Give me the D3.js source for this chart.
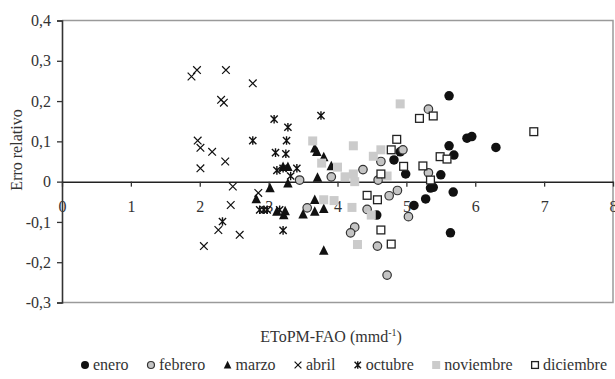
<!DOCTYPE html>
<html>
<head>
<meta charset="utf-8">
<script src="https://cdn.jsdelivr.net/npm/d3@7"></script>
<style>
  body { margin: 0; background: #fff; }
  svg text { font-family: "Liberation Serif", "DejaVu Serif", serif !important; }
</style>
</head>
<body>
<div id="chart"></div>
<script>
// ---------- data (x = EToPM-FAO, y = erro relativo) ----------
const months = ['enero', 'febrero', 'marzo', 'abril', 'octubre', 'noviembre', 'diciembre'];
const xTicks = [0, 1, 2, 3, 4, 5, 6, 7, 8];
const yTicks = [-0.3, -0.2, -0.1, 0, 0.1, 0.2, 0.3, 0.4];

const enero = [[5.62,0.213],[5.88,0.108],[5.95,0.112],[5.62,0.089],[5.69,0.066],[6.30,0.085],[4.82,0.054],[4.91,0.074],
  [4.99,0.019],[5.50,0.017],[5.35,-0.016],[5.39,-0.014],[5.68,-0.026],[5.28,-0.043],[5.11,-0.059],[5.64,-0.127],[4.57,-0.083]];
const febrero = [[3.45,0.004],[3.91,0.012],[4.37,0.030],[4.63,0.050],[4.59,0.004],[4.95,0.079],[5.32,0.180],[5.32,0.022],
  [4.75,-0.035],[4.87,-0.022],[4.43,-0.069],[3.56,-0.065],[5.03,-0.087],[4.25,-0.113],[4.19,-0.127],[4.58,-0.160],[4.72,-0.232]];
const marzo = [[3.67,0.083],[3.70,0.074],[3.80,0.061],[3.91,0.039],[3.21,0.037],[3.28,0.037],[3.71,0.010],[3.02,-0.016],
  [3.28,-0.004],[2.82,-0.043],[3.67,-0.045],[3.80,-0.067],[3.50,-0.081],[3.67,-0.074],[3.12,-0.074],[3.22,-0.083],[3.24,-0.073],[3.80,-0.171]];
const abril = [[1.88,0.261],[1.96,0.277],[2.38,0.277],[2.77,0.244],[2.31,0.203],[2.35,0.196],[1.97,0.102],[2.01,0.084],
  [2.18,0.074],[2.37,0.050],[2.01,0.033],[2.48,-0.012],[2.85,-0.028],[2.45,-0.058],[2.27,-0.120],[2.58,-0.132],[2.06,-0.160]];
const octubre = [[3.08,0.155],[3.28,0.135],[3.76,0.164],[2.77,0.102],[3.26,0.102],[3.10,0.072],[3.25,0.069],[3.12,0.028],
  [3.21,0.033],[3.41,0.033],[3.32,0.014],[2.87,-0.070],[2.93,-0.070],[2.98,-0.070],[3.16,-0.070],[3.21,-0.121],[2.33,-0.099]];
const noviembre = [[4.91,0.193],[3.64,0.101],[4.23,0.089],[4.63,0.079],[4.52,0.063],[3.77,0.046],[4.00,0.036],[4.11,0.012],
  [4.23,0.019],[4.25,0.000],[4.72,0.014],[3.80,-0.045],[3.95,-0.047],[4.21,-0.064],[4.49,-0.083],[4.29,-0.156]];
const diciembre = [[4.86,0.105],[4.78,0.079],[4.63,0.019],[4.96,0.038],[5.19,0.157],[5.39,0.163],[5.49,0.062],[5.59,0.056],
  [5.24,0.039],[5.35,0.004],[6.85,0.124],[4.43,-0.034],[4.58,-0.045],[4.63,-0.120],[4.78,-0.155]];

const seriesData = [enero, febrero, marzo, abril, octubre, noviembre, diciembre];

// ---------- setup ----------
const W = 615, H = 379;
const plot = { left: 62, right: 613, top: 20.5, bottom: 302.5 };

const svg = d3.select('#chart').append('svg')
  .attr('width', W).attr('height', H);

const x = d3.scaleLinear().domain([0, 8]).range([plot.left, plot.right]);
const y = d3.scaleLinear().domain([-0.3, 0.4]).range([plot.bottom, plot.top]);

const loc = d3.formatLocale({ decimal: ',', thousands: '.', grouping: [3], currency: ['', ''], minus: '-' });
const fmt = d => (d === 0 ? '0' : loc.format('.1f')(d));

// plot frame (grey top / right / bottom)
svg.append('path')
  .attr('d', `M${plot.left},${plot.top}H${plot.right}V${plot.bottom}H${plot.left}`)
  .attr('fill', 'none').attr('stroke', '#9a9a9a').attr('stroke-width', 1.5);

// y axis
const yAxis = svg.append('g')
  .attr('transform', `translate(${plot.left},0)`)
  .call(d3.axisLeft(y).tickValues(yTicks).tickFormat(fmt).tickSize(5).tickPadding(6));
yAxis.select('.domain').attr('stroke', '#333').attr('stroke-width', 1.6);
yAxis.selectAll('.tick line').attr('stroke', '#333').attr('stroke-width', 1.3);
yAxis.selectAll('text').attr('font-size', 16).attr('fill', '#333');

// x axis through zero
const xAxis = svg.append('g')
  .attr('transform', `translate(0,${y(0)})`)
  .call(d3.axisBottom(x).tickValues(xTicks).tickFormat(d3.format('d')).tickSizeInner(5).tickSizeOuter(0).tickPadding(14));
xAxis.select('.domain').attr('stroke', '#222').attr('stroke-width', 1.5);
xAxis.selectAll('.tick line').attr('stroke', '#333').attr('stroke-width', 1.3);
xAxis.selectAll('text').attr('font-size', 16).attr('fill', '#333');

// axis titles
svg.append('text')
  .attr('transform', `translate(22,150) rotate(-90)`)
  .attr('text-anchor', 'middle')
  .attr('font-size', 16).attr('fill', '#333')
  .text('Erro relativo');

const xt = svg.append('text')
  .attr('x', 331).attr('y', 342)
  .attr('text-anchor', 'middle')
  .attr('font-size', 16).attr('fill', '#333');
xt.append('tspan').text('EToPM-FAO (mmd');
xt.append('tspan').attr('dy', -6).attr('font-size', 10).text('-1');
xt.append('tspan').attr('dy', 6).text(')');

// ---------- marker drawing ----------
function drawMarker(g, i, s) {
  const h = s / 2;
  switch (i) {
    case 0:
      g.append('circle').attr('r', h).attr('fill', '#111');
      break;
    case 1:
      g.append('circle').attr('r', h - 0.5).attr('fill', '#c4c4c4').attr('stroke', '#333').attr('stroke-width', 1.2);
      break;
    case 2:
      g.append('path').attr('d', `M0,${-h * 1.05}L${h * 0.95},${h * 0.85}L${-h * 0.95},${h * 0.85}Z`).attr('fill', '#111');
      break;
    case 3:
      g.append('path').attr('d', `M${-h * 0.85},${-h * 0.85}L${h * 0.85},${h * 0.85}M${h * 0.85},${-h * 0.85}L${-h * 0.85},${h * 0.85}`)
        .attr('stroke', '#111').attr('stroke-width', 1.2).attr('fill', 'none');
      break;
    case 4:
      g.append('path').attr('d', `M${-h * 0.8},${-h * 0.8}L${h * 0.8},${h * 0.8}M${h * 0.8},${-h * 0.8}L${-h * 0.8},${h * 0.8}M0,${-h * 0.95}L0,${h * 0.95}`)
        .attr('stroke', '#111').attr('stroke-width', 1.4).attr('fill', 'none');
      break;
    case 5:
      g.append('rect').attr('x', -h).attr('y', -h).attr('width', s).attr('height', s).attr('fill', '#cbcbcb');
      break;
    case 6:
      g.append('rect').attr('x', -h + 0.6).attr('y', -h + 0.6).attr('width', s - 1.2).attr('height', s - 1.2)
        .attr('fill', '#fff').attr('stroke', '#222').attr('stroke-width', 1.3);
      break;
  }
}

const sizes = [9.5, 9.5, 10, 9, 9, 9, 9];
const pts = svg.append('g').attr('class', 'points');
seriesData.forEach((data, i) => {
  pts.selectAll(`.m${i}`).data(data).enter().append('g')
    .attr('class', `m${i}`)
    .attr('transform', d => `translate(${x(d[0])},${y(d[1])})`)
    .each(function () { drawMarker(d3.select(this), i, sizes[i]); });
});

// ---------- legend (spread between 80 and 607) ----------
const legend = svg.append('g').attr('transform', 'translate(0,370)');
const items = months.map((m, i) => {
  const item = legend.append('g');
  drawMarker(item.append('g').attr('transform', 'translate(5,-5)'), i, 8);
  const t = item.append('text').attr('x', 13).attr('y', 0)
    .attr('font-size', 16).attr('fill', '#333').text(m);
  return { item, w: 13 + t.node().getComputedTextLength() };
});
const total = d3.sum(items, d => d.w);
const gap = (607 - 80 - total) / (items.length - 1);
let lx = 80;
items.forEach(d => { d.item.attr('transform', `translate(${lx},0)`); lx += d.w + gap; });
</script>
</body>
</html>
